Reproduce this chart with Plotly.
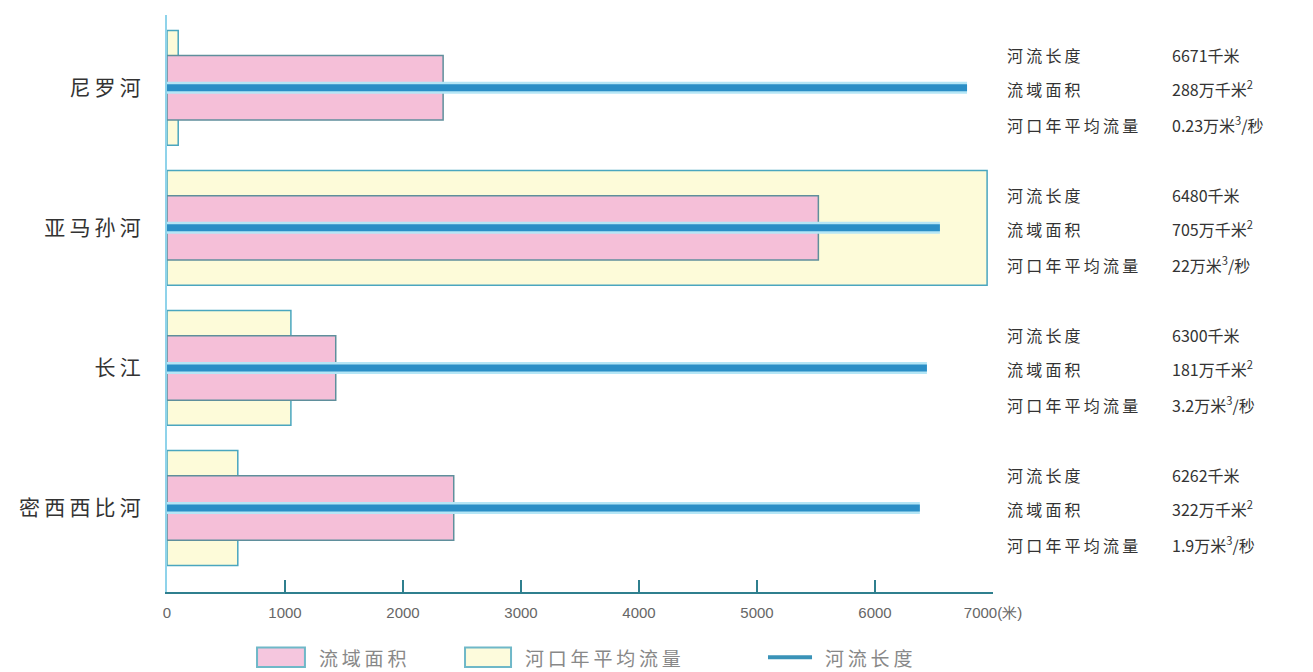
import plotly.graph_objects as go

# 数据（从图中读取，单位为图中横轴刻度）
rivers = ['密西西比河', '长江', '亚马孙河', '尼罗河']
area_bar = [2430, 1430, 5520, 2340]      # 流域面积
flow_bar = [600, 1050, 6950, 95]         # 河口年平均流量
length_line = [6380, 6440, 6550, 6780]   # 河流长度

length_txt = ['6262千米', '6300千米', '6480千米', '6671千米']
area_txt = ['322万千米<sup>2</sup>', '181万千米<sup>2</sup>', '705万千米<sup>2</sup>', '288万千米<sup>2</sup>']
flow_txt = ['1.9万米<sup>3</sup>/秒', '3.2万米<sup>3</sup>/秒', '22万米<sup>3</sup>/秒', '0.23万米<sup>3</sup>/秒']

x_ticks = [0, 1000, 2000, 3000, 4000, 5000, 6000, 7000]
x_ticktext = ['0', '1000', '2000', '3000', '4000', '5000', '6000', '7000(米)']

cjk = 'Noto Sans CJK SC'
sp = '\u2009'  # 字间距


def spaced(s):
    return sp.join(s)


fig = go.Figure()

# 河口年平均流量（底层的宽条）
fig.add_trace(go.Bar(
    y=rivers, x=flow_bar, orientation='h', width=0.82,
    marker=dict(color='#fdfbd9', line=dict(color='#4aa6bf', width=1.5)),
    name='河口年平均流量', showlegend=False,
))

# 流域面积
fig.add_trace(go.Bar(
    y=rivers, x=area_bar, orientation='h', width=0.46,
    marker=dict(color='#f5bfd8', line=dict(color='#5f8f9c', width=1.5)),
    name='流域面积', showlegend=False,
))

# 河流长度（线段从0到长度）
lx, ly = [], []
for r, v in zip(rivers, length_line):
    lx += [0, v, None]
    ly += [r, r, None]
fig.add_trace(go.Scatter(
    x=lx, y=ly, mode='lines', line=dict(color='#b5e6f6', width=12),
    hoverinfo='skip', showlegend=False,
))
fig.add_trace(go.Scatter(
    x=lx, y=ly, mode='lines', line=dict(color='#2a8ec6', width=7),
    name='河流长度', showlegend=False,
))

# 右侧说明文字
note_font = dict(family=cjk, size=16, color='#333333')
for r, a, b, c in zip(rivers, length_txt, area_txt, flow_txt):
    rows = [('河流长度', a, 33), ('流域面积', b, -1), ('河口年平均流量', c, -37)]
    for lab, val, dy in rows:
        fig.add_annotation(x=1.0145, xref='paper', y=r, yref='y', yshift=dy,
                           text=spaced(lab), showarrow=False,
                           xanchor='left', yanchor='middle', font=note_font)
        fig.add_annotation(x=1.2143, xref='paper', y=r, yref='y', yshift=dy,
                           text=val, showarrow=False,
                           xanchor='left', yanchor='middle', font=note_font)

# 图例（手绘）
legend_font = dict(family=cjk, size=19, color='#888888')
ly0, ly1, lyc = -0.096, -0.13, -0.113
fig.add_shape(type='rect', xref='paper', yref='paper', x0=0.109, x1=0.167, y0=ly0, y1=ly1,
              fillcolor='#f5c6de', line=dict(color='#6fb8c8', width=2))
fig.add_annotation(x=0.181, y=lyc, xref='paper', yref='paper', text=spaced('流域面积'),
                   showarrow=False, xanchor='left', yanchor='middle', font=legend_font)
fig.add_shape(type='rect', xref='paper', yref='paper', x0=0.3608, x1=0.4165, y0=ly0, y1=ly1,
              fillcolor='#fdfbdc', line=dict(color='#6fb8c8', width=2))
fig.add_annotation(x=0.431, y=lyc, xref='paper', yref='paper', text=spaced('河口年平均流量'),
                   showarrow=False, xanchor='left', yanchor='middle', font=legend_font)
fig.add_shape(type='line', xref='paper', yref='paper', x0=0.7276, x1=0.7809, y0=lyc, y1=lyc,
              line=dict(color='#3a93b8', width=4))
fig.add_annotation(x=0.794, y=lyc, xref='paper', yref='paper', text=spaced('河流长度'),
                   showarrow=False, xanchor='left', yanchor='middle', font=legend_font)

fig.update_layout(
    width=1313, height=672,
    margin=dict(l=159, r=328, t=7, b=88),
    barmode='overlay',
    plot_bgcolor='white', paper_bgcolor='white',
    xaxis=dict(
        range=[0, 7000], tickvals=x_ticks, ticktext=x_ticktext,
        showgrid=False, zeroline=False,
        showline=True, linecolor='#2f7f8e', linewidth=2,
        ticks='inside', ticklen=12, tickwidth=1.5, tickcolor='#2f7f8e',
        ticklabelstandoff=6,
        tickfont=dict(family='Liberation Sans Narrow, Liberation Sans', size=15, color='#666666'),
    ),
    yaxis=dict(
        type='category', categoryorder='array', categoryarray=rivers,
        range=[-0.6, 3.52], showgrid=False, zeroline=False,
        showline=True, linecolor='#8fd3ea', linewidth=2,
        ticks='', ticklabelstandoff=20,
        tickvals=rivers, ticktext=[spaced(r) for r in rivers],
        tickfont=dict(family=cjk, size=21, color='#333333'),
    ),
)

fig.write_html('out.html')
